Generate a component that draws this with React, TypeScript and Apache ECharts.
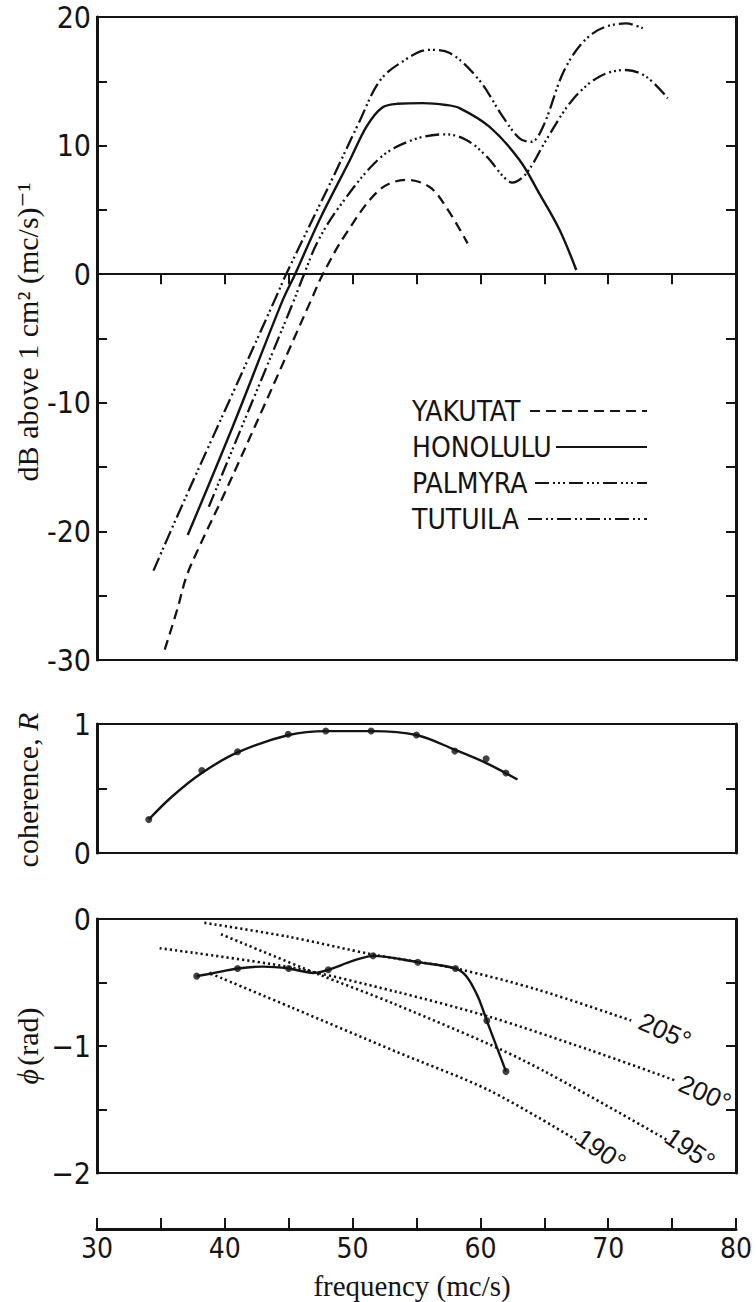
import React, { useEffect, useRef } from "react";
import * as echarts from "echarts";

// ---------- data ----------
const freqTicks = [30, 40, 50, 60, 70, 80];

const yakutat: [number, number][] = [
  [35.3, -29.2], [36.3, -26.0], [37.0, -23.5], [38.0, -21.2], [40.0, -17.0], [43.0, -10.4],
  [46.76, -2.0], [47.67, 0], [49.5, 3.18], [52.1, 6.55], [54.2, 7.33], [56.0, 6.8], [57.3, 5.25], [59.0, 2.4],
];
const honolulu: [number, number][] = [
  [37.1, -20.28], [40.6, -11.9], [44.54, -2.0], [45.5, 0], [47.4, 4.2], [49.8, 8.9], [51.1, 11.5],
  [52.3, 12.95], [53.5, 13.25], [55.5, 13.3], [57.3, 13.16], [58.4, 12.9], [60.7, 11.47], [63.06, 8.88],
  [64.6, 6.29], [66.2, 3.44], [67.5, 0.33],
];
const palmyra: [number, number][] = [
  [38.75, -18.08], [41.15, -12.3], [45.32, -2.26], [46.2, 0], [47.3, 2.6], [49.0, 5.3], [52.1, 9.0],
  [54.7, 10.44], [57.3, 10.88], [58.9, 10.44], [60.5, 9.14], [61.8, 7.58], [62.5, 7.12], [63.6, 7.85],
  [65.15, 10.44], [67.2, 13.55], [69.3, 15.36], [71.4, 15.88], [72.97, 15.36], [74.66, 13.68],
];
const tutuila: [number, number][] = [
  [34.42, -23.05], [36.2, -19.0], [38.55, -13.8], [40.6, -9.3], [44.0, -1.8], [44.8, 0], [48.5, 7.6],
  [50.5, 11.8], [52.1, 15.0], [53.7, 16.4], [56.0, 17.45], [57.6, 17.2], [59.9, 15.1], [61.75, 12.25],
  [63.06, 10.57], [63.98, 10.3], [64.9, 11.47], [66.7, 16.13], [68.8, 18.73], [71.4, 19.5], [72.7, 19.12],
];
const zeroLine: [number, number][] = [[30, 0], [80, 0]];

const coherencePoints: [number, number][] = [
  [34.05, 0.26], [38.2, 0.64], [41.0, 0.785], [44.96, 0.92], [47.9, 0.946], [51.45, 0.946],
  [55.0, 0.915], [58.0, 0.79], [60.45, 0.73], [62.0, 0.62],
];
const coherenceCurve: [number, number][] = [
  [34.05, 0.26], [35.9, 0.44], [38.2, 0.62], [41.0, 0.78], [45.0, 0.915], [48.0, 0.945],
  [51.5, 0.945], [55.0, 0.915], [58.0, 0.8], [60.5, 0.695], [62.9, 0.57],
];

const phasePoints: [number, number][] = [
  [37.8, -0.45], [41.0, -0.39], [45.0, -0.39], [48.1, -0.4], [51.6, -0.29], [55.1, -0.34],
  [58.05, -0.39], [60.5, -0.8], [62.0, -1.2],
];
const phaseSmallPoints: [number, number][] = [[38.9, -0.43]];
const phaseCurve: [number, number][] = [
  [37.8, -0.45], [38.9, -0.43], [41.0, -0.39], [43.0, -0.375], [45.0, -0.39], [46.9, -0.425],
  [48.1, -0.4], [50.0, -0.33], [51.6, -0.29], [55.1, -0.34], [58.05, -0.39], [58.9, -0.45],
  [59.8, -0.61], [60.5, -0.8], [62.0, -1.2],
];
const line205: [number, number][] = [[38.4, -0.03], [45.0, -0.14], [51.6, -0.28], [58.1, -0.39], [64.6, -0.56], [71.8, -0.8]];
const line200: [number, number][] = [[34.9, -0.23], [45.1, -0.38], [53.3, -0.57], [60.7, -0.77], [68.5, -1.03], [75.2, -1.27]];
const line195: [number, number][] = [[39.7, -0.12], [47.2, -0.43], [53.3, -0.67], [63.3, -1.11], [74.6, -1.74]];
const line190: [number, number][] = [[38.9, -0.43], [45.3, -0.7], [53.3, -1.04], [60.7, -1.35], [67.5, -1.74]];

const seriesNames = ["YAKUTAT", "HONOLULU", "PALMYRA", "TUTUILA"];
const phaseLabels = ["205°", "200°", "195°", "190°"];

// ---------- styles ----------
const INK = "#141414";
const SANS = '"Liberation Sans Narrow", "DejaVu Sans Condensed", "Liberation Sans", sans-serif';
const SANS2 = '"Liberation Sans", "DejaVu Sans", sans-serif';
const SERIF = '"Liberation Serif", "DejaVu Serif", serif';
const dashYak = [10, 6];
const dashPal = [14, 4, 2, 3, 2, 3, 2, 4];
const dashTut = [14, 4, 2, 3, 2, 4];
const dotted = [2.2, 3];

const LEFT = 97;
const WIDTH = 639;

function App() {
  const ref = useRef<HTMLDivElement>(null);
  useEffect(() => {
    if (!ref.current) return;
    const chart = echarts.init(ref.current, null, { renderer: "svg" });

    const baseX = (gi: number, extra: any = {}) => ({
      type: "value", gridIndex: gi, min: 30, max: 80, interval: 5,
      axisLine: { show: false }, axisTick: { show: false }, axisLabel: { show: false },
      splitLine: { show: false }, ...extra,
    });
    const yAx = (gi: number, min: number, max: number, interval: number, pos: "left" | "right", fmt?: (v: number) => string) => ({
      type: "value", gridIndex: gi, min, max, interval, position: pos,
      axisLine: { show: true, lineStyle: { color: INK, width: 3 } },
      axisTick: { show: true, inside: true, length: 10, lineStyle: { color: INK, width: 2 } },
      axisLabel: fmt
        ? { show: true, formatter: fmt, fontFamily: SANS, fontSize: 30, color: INK, margin: 6 }
        : { show: false },
      splitLine: { show: false },
    });
    const lineS = (data: [number, number][], xi: number, yi: number, type: any, width = 2.3, smooth: any = 0.35) => ({
      type: "line", data, xAxisIndex: xi, yAxisIndex: yi, smooth, showSymbol: false, symbol: "none",
      lineStyle: { color: INK, width, type, cap: "butt" }, silent: true, z: 3,
    });
    const scat = (data: [number, number][], xi: number, yi: number, size: number) => ({
      type: "scatter", data, xAxisIndex: xi, yAxisIndex: yi, symbolSize: size,
      itemStyle: { color: INK }, silent: true, z: 4,
    });

    const legendY = [411, 447, 483, 519];
    const legendTextEnd = [530, 556, 535, 528];
    const legendDash = [dashYak, null, dashPal, dashTut];

    const graphics: any[] = [
      {
        type: "text", x: 27, y: 332, rotation: Math.PI / 2,
        style: { text: "dB above 1 cm² (mc/s)⁻¹", fontFamily: SERIF, fontSize: 30, fill: INK, align: "center", verticalAlign: "middle" },
      },
      {
        type: "text", x: 27, y: 790, rotation: Math.PI / 2,
        style: {
          text: "{a|coherence, }{b|R}", align: "center", verticalAlign: "middle",
          rich: {
            a: { fontFamily: SERIF, fontSize: 30, fill: INK },
            b: { fontFamily: SERIF, fontSize: 30, fontStyle: "italic", fill: INK },
          },
        },
      },
      {
        type: "text", x: 27, y: 1046, rotation: Math.PI / 2,
        style: {
          text: "{b|ϕ} {a|(rad)}", align: "center", verticalAlign: "middle",
          rich: {
            a: { fontFamily: SERIF, fontSize: 30, fill: INK },
            b: { fontFamily: SERIF, fontSize: 30, fontStyle: "italic", fill: INK },
          },
        },
      },
      {
        type: "text", x: 412, y: 1286,
        style: { text: "frequency (mc/s)", fontFamily: SERIF, fontSize: 29, fill: INK, align: "center", verticalAlign: "middle" },
      },
    ];
    seriesNames.forEach((n, i) => {
      graphics.push({
        type: "text", x: 412, y: legendY[i],
        style: { text: n, fontFamily: SANS, fontSize: 28, fill: INK, align: "left", verticalAlign: "middle" },
      });
      graphics.push({
        type: "line", shape: { x1: legendTextEnd[i], y1: legendY[i], x2: 647, y2: legendY[i] },
        style: { stroke: INK, lineWidth: 2.2, lineDash: legendDash[i] || undefined },
      });
    });
    const labPos = [[665, 1031, -0.42], [705, 1093, -0.42], [690, 1149, -0.6], [601, 1150, -0.6]];
    phaseLabels.forEach((t, i) => {
      graphics.push({
        type: "text", x: labPos[i][0], y: labPos[i][1], rotation: labPos[i][2],
        style: { text: t, fontFamily: SANS2, fontSize: 26, fill: INK, align: "center", verticalAlign: "middle" },
      });
    });

    const option: any = {
      animation: false,
      backgroundColor: "#fff",
      grid: [
        { left: LEFT, top: 17, width: WIDTH, height: 643, show: true, borderColor: INK, borderWidth: 2, backgroundColor: "transparent" },
        { left: LEFT, top: 724, width: WIDTH, height: 129, show: true, borderColor: INK, borderWidth: 2, backgroundColor: "transparent" },
        { left: LEFT, top: 919, width: WIDTH, height: 254, show: true, borderColor: INK, borderWidth: 2, backgroundColor: "transparent" },
        { left: LEFT, top: 1199, width: WIDTH, height: 30, show: false },
      ],
      xAxis: [
        baseX(0, {
          position: "top",
          axisLine: { show: true, lineStyle: { color: INK, width: 2 } },
          axisTick: { show: true, inside: true, length: 10, lineStyle: { color: INK, width: 2 } },
        }),
        baseX(1),
        baseX(2),
        baseX(3, {
          position: "bottom",
          axisLine: { show: true, lineStyle: { color: INK, width: 3 } },
          axisTick: { show: true, inside: true, length: 11, lineStyle: { color: INK, width: 2 } },
          axisLabel: {
            show: true, fontFamily: SANS, fontSize: 28, color: INK, margin: 5,
            formatter: (v: number) => (freqTicks.includes(v) ? String(v) : ""),
          },
        }),
      ],
      yAxis: [
        yAx(0, -30, 20, 5, "left", (v: number) => (v % 10 === 0 ? String(v) : "")),
        yAx(0, -30, 20, 5, "right"),
        yAx(1, 0, 1, 0.5, "left", (v: number) => (v === 0 || v === 1 ? String(v) : "")),
        yAx(1, 0, 1, 0.5, "right"),
        yAx(2, -2, 0, 0.5, "left", (v: number) => (Number.isInteger(v) ? (v < 0 ? "−" + Math.abs(v) : "0") : "")),
        yAx(2, -2, 0, 0.5, "right"),
        { type: "value", gridIndex: 3, show: false, min: 0, max: 1 },
      ],
      series: [
        lineS(zeroLine, 0, 0, "solid", 1.6, false),
        lineS(yakutat, 0, 0, dashYak),
        lineS(honolulu, 0, 0, "solid", 2.4),
        lineS(palmyra, 0, 0, dashPal),
        lineS(tutuila, 0, 0, dashTut),
        lineS(coherenceCurve, 1, 2, "solid", 2.4),
        scat(coherencePoints, 1, 2, 7),
        lineS(line205, 2, 4, dotted, 2.6, 0.3),
        lineS(line200, 2, 4, dotted, 2.6, 0.3),
        lineS(line195, 2, 4, dotted, 2.6, 0.3),
        lineS(line190, 2, 4, dotted, 2.6, 0.3),
        lineS(phaseCurve, 2, 4, "solid", 2.4, 0.3),
        scat(phasePoints, 2, 4, 7),
        scat(phaseSmallPoints, 2, 4, 4),
      ],
      graphic: graphics,
    };
    chart.setOption(option);
    return () => chart.dispose();
  }, []);
  return (
    <div
      ref={ref}
      style={{ position: "fixed", left: 0, top: 0, width: 756, height: 1302, background: "#fff" }}
    />
  );
}

export default App;
